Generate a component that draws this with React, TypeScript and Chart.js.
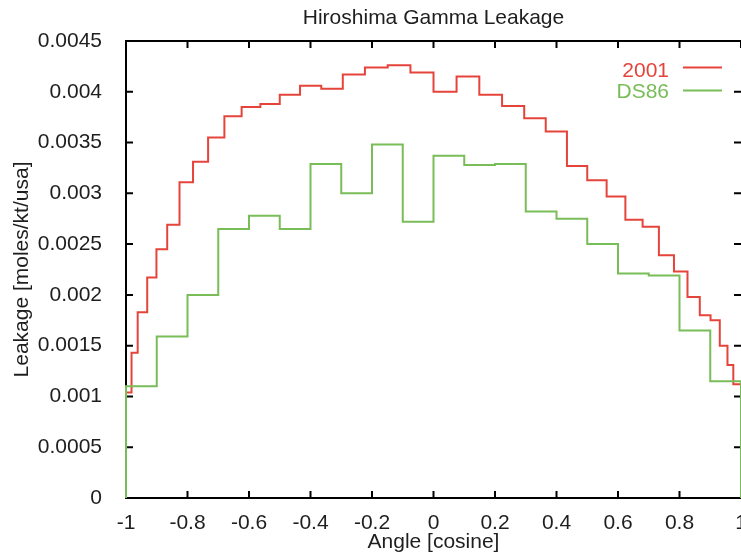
import React, { useEffect, useRef } from "react";
import { Chart, registerables } from "chart.js";

Chart.register(...registerables);

const chartTitle = "Hiroshima Gamma Leakage";
const xAxisTitle = "Angle [cosine]";
const yAxisTitle = "Leakage [moles/kt/usa]";

// 2001 series: bin edges (cosine) and bin values
const label2001 = "2001";
const edges2001 = [
  -1, -0.982, -0.962, -0.931, -0.901, -0.866, -0.826, -0.782, -0.733, -0.68,
  -0.624, -0.563, -0.5, -0.434, -0.365, -0.295, -0.223, -0.149, -0.075, 0,
  0.075, 0.149, 0.223, 0.295, 0.365, 0.434, 0.5, 0.563, 0.624, 0.68,
  0.733, 0.782, 0.826, 0.866, 0.901, 0.931, 0.956, 0.975, 1,
];
const values2001 = [
  0.00104, 0.00143, 0.00183, 0.00217, 0.00245, 0.00269, 0.00311, 0.00331, 0.00355, 0.00376,
  0.00385, 0.00388, 0.00397, 0.00406, 0.00403, 0.00417, 0.00424, 0.00426, 0.00419, 0.004,
  0.00415, 0.00397, 0.00386, 0.00374, 0.00361, 0.00327, 0.00313, 0.00297, 0.00274, 0.00267,
  0.00239, 0.00223, 0.00198, 0.0018, 0.00175, 0.0015, 0.00131, 0.00112,
];

// DS86 series
const labelDS86 = "DS86";
const edgesDS86 = [
  -1, -0.9, -0.8, -0.7, -0.6, -0.5, -0.4, -0.3, -0.2, -0.1, 0,
  0.1, 0.2, 0.3, 0.4, 0.5, 0.6, 0.7, 0.8, 0.9, 1,
];
const valuesDS86 = [
  0.0011, 0.00159, 0.002, 0.00265, 0.00278, 0.00265, 0.00329, 0.003, 0.00348, 0.00272,
  0.00337, 0.00328, 0.00329, 0.00282, 0.00275, 0.0025, 0.00221, 0.00219, 0.00165, 0.00115,
];

const xTickValues = [-1, -0.8, -0.6, -0.4, -0.2, 0, 0.2, 0.4, 0.6, 0.8, 1];
const yTickValues = [0, 0.0005, 0.001, 0.0015, 0.002, 0.0025, 0.003, 0.0035, 0.004, 0.0045];

const RED = "#e5443b";
const GREEN = "#79bd58";
const TEXT = "#1e1e1e";
const FONT = "'Liberation Sans', Arial, sans-serif";

function histogramPoints(edges: number[], values: number[]) {
  const pts: { x: number; y: number }[] = [{ x: edges[0], y: 0 }];
  values.forEach((v, i) => pts.push({ x: edges[i], y: v }));
  const last = edges[edges.length - 1];
  pts.push({ x: last, y: values[values.length - 1] });
  pts.push({ x: last, y: 0 });
  return pts;
}

const framePlugin = {
  id: "frame",
  beforeDatasetsDraw(chart: any) {
    const { ctx, chartArea, scales } = chart;
    const { left, right, top, bottom } = chartArea;
    const x = scales.x;
    const y = scales.y;
    const tl = 7;
    ctx.save();
    ctx.strokeStyle = "#000";
    ctx.lineWidth = 2;
    ctx.beginPath();
    ctx.moveTo(right, top);
    ctx.lineTo(left, top);
    ctx.lineTo(left, bottom);
    ctx.lineTo(right, bottom);
    xTickValues.forEach((v) => {
      const px = x.getPixelForValue(v);
      ctx.moveTo(px, bottom);
      ctx.lineTo(px, bottom - tl);
      ctx.moveTo(px, top);
      ctx.lineTo(px, top + tl);
    });
    yTickValues.forEach((v) => {
      const py = y.getPixelForValue(v);
      ctx.moveTo(left, py);
      ctx.lineTo(left + tl, py);
      ctx.moveTo(right, py);
      ctx.lineTo(right - tl, py);
    });
    ctx.stroke();
    ctx.restore();
  },
  afterDraw(chart: any) {
    const { ctx } = chart;
    const items = [
      { text: label2001, color: RED, baseline: 77, lineY: 67.5 },
      { text: labelDS86, color: GREEN, baseline: 97.5, lineY: 90.5 },
    ];
    ctx.save();
    ctx.font = `21px ${FONT}`;
    ctx.textAlign = "right";
    ctx.textBaseline = "alphabetic";
    items.forEach((it) => {
      ctx.fillStyle = it.color;
      ctx.fillText(it.text, 669, it.baseline);
      ctx.strokeStyle = it.color;
      ctx.lineWidth = 2;
      ctx.beginPath();
      ctx.moveTo(683, it.lineY);
      ctx.lineTo(722, it.lineY);
      ctx.stroke();
    });
    ctx.restore();
  },
};

export default function App() {
  const canvasRef = useRef<HTMLCanvasElement | null>(null);

  useEffect(() => {
    if (!canvasRef.current) return;
    const chart = new Chart(canvasRef.current, {
      type: "line",
      data: {
        datasets: [
          {
            label: labelDS86,
            data: histogramPoints(edgesDS86, valuesDS86),
            borderColor: GREEN,
            borderWidth: 2,
            stepped: "before",
            pointRadius: 0,
            fill: false,
            clip: false,
            order: 0,
          },
          {
            label: label2001,
            data: histogramPoints(edges2001, values2001),
            borderColor: RED,
            borderWidth: 2,
            stepped: "before",
            pointRadius: 0,
            fill: false,
            clip: false,
            order: 1,
          },
        ],
      },
      options: {
        responsive: false,
        animation: false,
        devicePixelRatio: 1,
        parsing: false,
        layout: { autoPadding: false, padding: { left: 0, right: 0, top: 0, bottom: 0 } },
        plugins: {
          legend: { display: false },
          tooltip: { enabled: false },
          title: {
            display: true,
            text: chartTitle,
            fullSize: false,
            color: TEXT,
            font: { family: FONT, size: 21, weight: "normal" },
            padding: { top: 6, bottom: 9.8 },
          },
        },
        scales: {
          x: {
            type: "linear",
            min: -1,
            max: 1,
            afterBuildTicks: (s: any) => {
              s.ticks = xTickValues.map((v) => ({ value: v }));
            },
            afterFit: (s: any) => {
              s.height = 57;
              s.paddingLeft = 0;
              s.paddingRight = 0;
              s.paddingTop = 0;
              s.paddingBottom = 0;
            },
            grid: { display: false },
            border: { display: false },
            ticks: {
              autoSkip: false,
              maxRotation: 0,
              padding: 5,
              color: TEXT,
              font: { family: FONT, size: 21 },
              callback: (v: any) => String(+Number(v).toFixed(1)),
            },
            title: {
              display: true,
              text: xAxisTitle,
              color: TEXT,
              font: { family: FONT, size: 21 },
              padding: { top: 0, bottom: 0 },
            },
          },
          y: {
            type: "linear",
            min: 0,
            max: 0.0045,
            afterBuildTicks: (s: any) => {
              s.ticks = yTickValues.map((v) => ({ value: v }));
            },
            afterFit: (s: any) => {
              s.width = 126;
              s.paddingLeft = 0;
              s.paddingRight = 0;
              s.paddingTop = 0;
              s.paddingBottom = 0;
            },
            grid: { display: false },
            border: { display: false },
            ticks: {
              autoSkip: false,
              padding: 16,
              color: TEXT,
              font: { family: FONT, size: 21 },
              callback: (v: any) => String(+Number(v).toFixed(4)),
            },
            title: {
              display: true,
              text: yAxisTitle,
              color: TEXT,
              font: { family: FONT, size: 21 },
              padding: { top: 10, bottom: 0 },
            },
          },
        },
      },
      plugins: [framePlugin],
    });
    return () => chart.destroy();
  }, []);

  return (
    <div style={{ position: "absolute", left: 0, top: 0, width: 741, height: 555, background: "#fff" }}>
      <canvas ref={canvasRef} width={741} height={555} style={{ display: "block" }} />
    </div>
  );
}
